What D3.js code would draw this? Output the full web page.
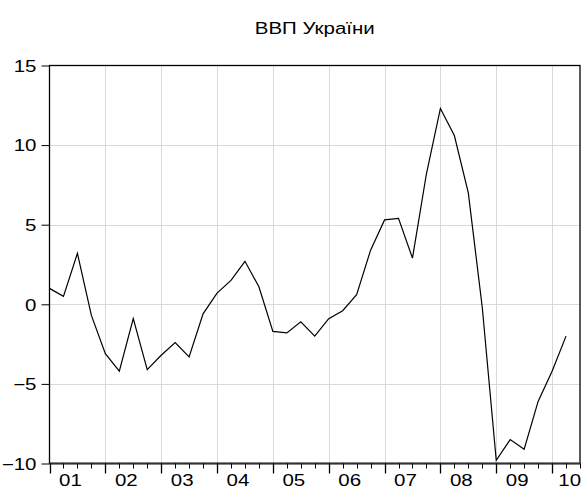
<!DOCTYPE html>
<html>
<head>
<meta charset="utf-8">
<script src="https://cdn.jsdelivr.net/npm/d3@7"></script>
<style>
  body { margin: 0; background: #fff; }
  svg { display: block; }
  text { font-family: "Liberation Sans", Arial, sans-serif; fill: #000; }
</style>
</head>
<body>
<svg id="chart" width="582" height="490"></svg>
<script>
// Quarterly data, 2001Q1 .. 2010Q2
const quarters = d3.range(38);
const values = [
  1.0, 0.5, 3.2, -0.7, -3.1, -4.2, -0.9, -4.1, -3.2, -2.4,
  -3.3, -0.6, 0.7, 1.5, 2.7, 1.1, -1.7, -1.8, -1.1, -2.0,
  -0.9, -0.4, 0.6, 3.4, 5.3, 5.4, 2.9, 8.2, 12.3, 10.6,
  7.0, -0.2, -9.8, -8.5, -9.1, -6.1, -4.2, -2.0
];
const yearLabels = ["01","02","03","04","05","06","07","08","09","10"];
const yTicks = [-10, -5, 0, 5, 10, 15];
const title = "ВВП України";

const svg = d3.select("#chart");
const W = 582;
const L = 49.5, R = 580, T = 65.5, B = 463.5;
const SX = 1.28; // horizontal stretch of the reference's lettering
const FS = "16px";

const x = d3.scaleLinear().domain([0, 38]).range([L, R]);
const y = d3.scaleLinear().domain([-10, 15]).range([B, T]);

function stretchedText(g, tx, ty, anchor, str) {
  return g.append("text")
    .attr("transform", `translate(${tx},${ty}) scale(${SX},1)`)
    .attr("text-anchor", anchor)
    .style("font-size", FS)
    .text(str);
}

// grid
const grid = svg.append("g").attr("stroke", "#d9d9d9").attr("stroke-width", 1);
grid.selectAll("line.h").data(yTicks.filter(v => v > -10 && v < 15)).enter()
  .append("line").attr("x1", L).attr("x2", R)
  .attr("y1", d => Math.round(y(d)) + 0.5).attr("y2", d => Math.round(y(d)) + 0.5);
grid.selectAll("line.v").data(d3.range(1, 10)).enter()
  .append("line").attr("y1", T).attr("y2", B)
  .attr("x1", d => Math.round(x(d * 4)) + 0.5).attr("x2", d => Math.round(x(d * 4)) + 0.5);

// data line
const line = d3.line().x((d, i) => x(quarters[i])).y(d => y(d));
svg.append("path").datum(values).attr("d", line)
  .attr("fill", "none").attr("stroke", "#000").attr("stroke-width", 1.2)
  .attr("stroke-linejoin", "miter");

// frame
svg.append("rect").attr("x", L).attr("y", T).attr("width", R - L).attr("height", B - T)
  .attr("fill", "none").attr("stroke", "#000").attr("stroke-width", 1.3);

// y axis
const yAxis = d3.axisLeft(y).tickValues(yTicks).tickSize(8).tickFormat(() => "");
const gy = svg.append("g").attr("transform", `translate(${L},0)`).call(yAxis);
gy.select(".domain").remove();
gy.selectAll("line").attr("stroke", "#000");
gy.selectAll(".tick").each(function(d) {
  d3.select(this).select("text").remove();
  stretchedText(d3.select(this), -13, 5.8, "end", d3.format("d")(d));
});

// x axis: minor ticks each quarter, major ticks at year boundaries
const gx = svg.append("g").attr("transform", `translate(0,${B})`);
gx.append("line").attr("x1", L).attr("x2", R).attr("y1", 0).attr("y2", 0)
  .attr("stroke", "#333").attr("stroke-width", 2);
gx.selectAll("line.minor").data(d3.range(0, 39).filter(i => i % 4 !== 0)).enter()
  .append("line").attr("x1", d => Math.round(x(d)) + 0.5).attr("x2", d => Math.round(x(d)) + 0.5)
  .attr("y1", 0).attr("y2", 10 / 2).attr("stroke", "#000");
gx.selectAll("line.major").data(d3.range(0, 10)).enter()
  .append("line").attr("x1", d => Math.round(x(d * 4)) + 0.5).attr("x2", d => Math.round(x(d * 4)) + 0.5)
  .attr("y1", 0).attr("y2", 10).attr("stroke", "#000").attr("stroke-width", 1.3);
yearLabels.forEach((lab, i) => {
  const t = stretchedText(gx, x(i * 4 + 1.5), 22.5, "middle", lab);
  // keep the last label inside the picture
  const bb = t.node().getBBox();
  const half = bb.width * SX / 2;
  const cx = x(i * 4 + 1.5);
  if (cx + half > W - 1) {
    t.attr("transform", `translate(${W - 1 - half},22.5) scale(${SX},1)`);
  }
});

// title
stretchedText(svg, (L + R) / 2, 34, "middle", title);
</script>
</body>
</html>
